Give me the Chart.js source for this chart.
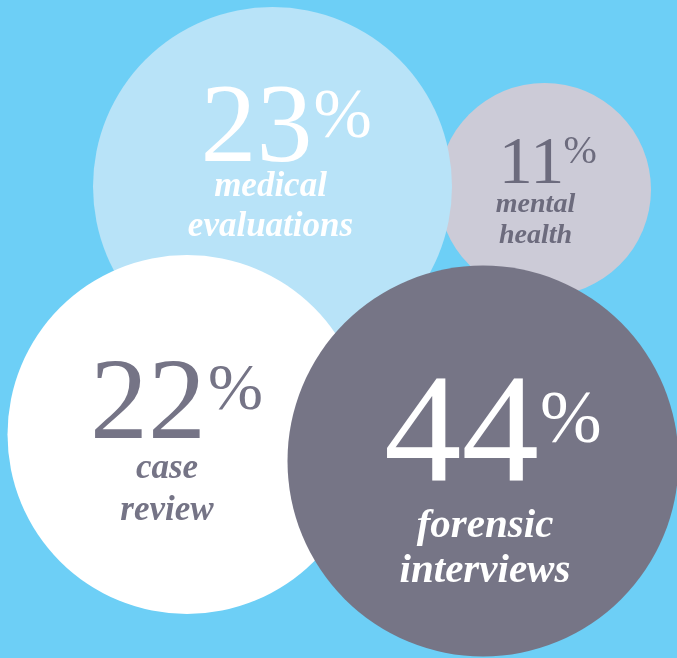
<!DOCTYPE html>
<html>
<head>
<meta charset="utf-8">
<script src="https://cdn.jsdelivr.net/npm/chart.js@4"></script>
<style>
  html, body { margin: 0; padding: 0; background: #6dcff6; }
  canvas { display: block; }
</style>
</head>
<body>
<canvas id="bubbles" width="677" height="658"></canvas>
<script>
// bubble data, drawn back to front
var categories = [['mental', 'health'], ['medical', 'evaluations'], ['case', 'review'], ['forensic', 'interviews']];
var percents = [11, 23, 22, 44];
var bubbleX = [544.5, 272.5, 187, 483];
var bubbleY = [189.5, 186.5, 434.5, 461];
var bubbleR = [106.5, 179.5, 179.5, 195.5];

var fillColors = ['#cccbd7', '#b8e3f8', '#ffffff', '#767586'];
var textColors = ['#6c6b7d', '#ffffff', '#757486', '#ffffff'];

// text layout per bubble (offsets from bubble centre, px)
var textLayout = [
    { num: 68, pct: 40, lab: 28, numDx: -13, numDy: -7, pctDx: 19, pctDy: -27, labDx: -9, labDy: [22, 53] },
    { num: 112, pct: 70, lab: 35, numDx: -16, numDy: -26, pctDx: 41, pctDy: -50, labDx: -2, labDy: [9, 49] },
    { num: 116, pct: 66, lab: 35, numDx: -39, numDy: 3.5, pctDx: 21, pctDy: -25.5, labDx: -20, labDy: [43.5, 85.5] },
    { num: 155, pct: 74, lab: 41, numDx: -21.5, numDy: 19, pctDx: 57, pctDy: -19, labDx: 2, labDy: [76, 121] }
];

var points = [];
for (var i = 0; i < percents.length; i++) {
    points.push({ x: bubbleX[i], y: bubbleY[i], r: bubbleR[i] });
}

// bubbles run off the edges, so don't let the chart shrink its area for them
Chart.registry.getController('bubble').prototype.getMaxOverflow = function () { return 0; };

var background = {
    id: 'background',
    beforeDraw: function (chart) {
        var ctx = chart.ctx;
        ctx.save();
        ctx.fillStyle = '#6dcff6';
        ctx.fillRect(0, 0, chart.width, chart.height);
        ctx.restore();
    }
};

var bubbleText = {
    id: 'bubbleText',
    afterDatasetsDraw: function (chart) {
        var ctx = chart.ctx;
        var xs = chart.scales.x;
        var ys = chart.scales.y;
        ctx.save();
        for (var i = 0; i < percents.length; i++) {
            var cx = xs.getPixelForValue(bubbleX[i]);
            var cy = ys.getPixelForValue(bubbleY[i]);
            var t = textLayout[i];
            ctx.fillStyle = textColors[i];
            ctx.textBaseline = 'alphabetic';

            ctx.textAlign = 'center';
            ctx.font = t.num + 'px "Liberation Serif"';
            ctx.fillText(String(percents[i]), cx + t.numDx, cy + t.numDy);

            ctx.textAlign = 'left';
            ctx.font = t.pct + 'px "Liberation Serif"';
            ctx.fillText('%', cx + t.pctDx, cy + t.pctDy);

            ctx.textAlign = 'center';
            ctx.font = 'italic bold ' + t.lab + 'px "Liberation Serif"';
            for (var j = 0; j < categories[i].length; j++) {
                ctx.fillText(categories[i][j], cx + t.labDx, cy + t.labDy[j]);
            }
        }
        ctx.restore();
    }
};

var ctx = document.getElementById('bubbles').getContext('2d');
new Chart(ctx, {
    type: 'bubble',
    data: {
        datasets: [{
            data: points,
            backgroundColor: fillColors,
            borderWidth: 0,
            hoverBorderWidth: 0,
            clip: false
        }]
    },
    options: {
        responsive: false,
        animation: false,
        events: [],
        layout: { padding: 0 },
        plugins: {
            legend: { display: false },
            tooltip: { enabled: false }
        },
        scales: {
            x: { type: 'linear', min: 0, max: 677, display: false },
            y: { type: 'linear', min: 0, max: 658, reverse: true, display: false }
        }
    },
    plugins: [background, bubbleText]
});
</script>
</body>
</html>
